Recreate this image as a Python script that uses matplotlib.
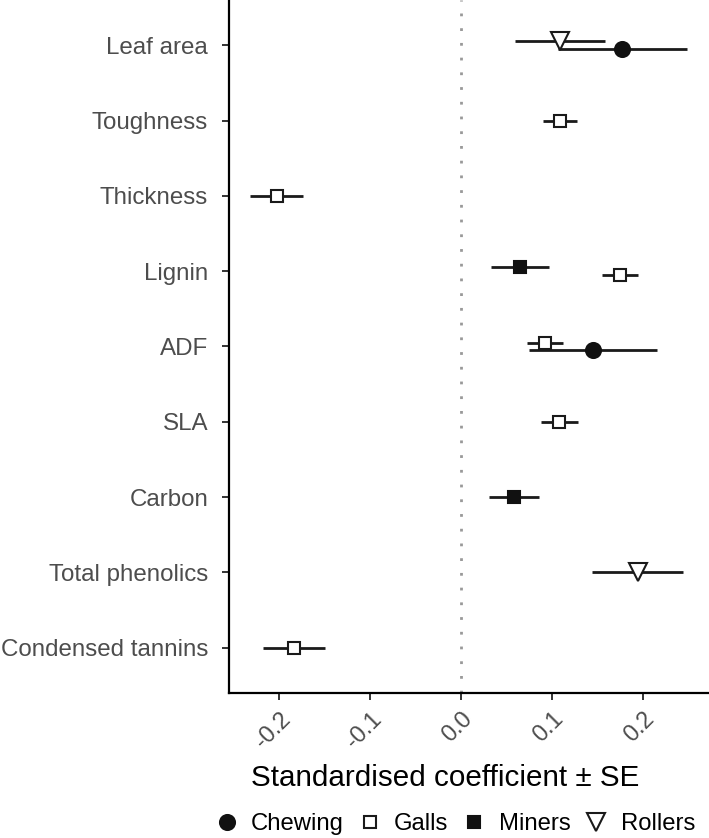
import matplotlib
matplotlib.use("Agg")
import matplotlib.pyplot as plt
import numpy as np

plt.rcParams['font.family'] = ['Liberation Sans', 'DejaVu Sans']

traits = ["Leaf area", "Toughness", "Thickness", "Lignin", "ADF", "SLA",
          "Carbon", "Total phenolics", "Condensed tannins"]
guilds = ["Chewing", "Galls", "Miners", "Rollers"]

chewing_traits = ["Leaf area", "ADF"]
chewing_est = [0.177, 0.145]
chewing_se = [0.071, 0.0705]

galls_traits = ["Toughness", "Thickness", "Lignin", "ADF", "SLA", "Condensed tannins"]
galls_est = [0.1085, -0.203, 0.174, 0.092, 0.1077, -0.1838]
galls_se = [0.0187, 0.0288, 0.0197, 0.0195, 0.0204, 0.034]

miners_traits = ["Lignin", "Carbon"]
miners_est = [0.0645, 0.0579]
miners_se = [0.0317, 0.0277]

rollers_traits = ["Leaf area", "Total phenolics"]
rollers_est = [0.1085, 0.1938]
rollers_se = [0.0498, 0.0498]

xticks = [-0.2, -0.1, 0.0, 0.1, 0.2]

data = {
    "Chewing": (chewing_traits, chewing_est, chewing_se),
    "Galls": (galls_traits, galls_est, galls_se),
    "Miners": (miners_traits, miners_est, miners_se),
    "Rollers": (rollers_traits, rollers_est, rollers_se),
}
styles = {
    "Chewing": dict(marker='o', ms=10.8, mfc='#111111', mec='#111111'),
    "Galls": dict(marker='s', ms=9.0, mfc='white', mec='#1a1a1a'),
    "Miners": dict(marker='s', ms=9.2, mfc='#111111', mec='#111111'),
    "Rollers": dict(marker='v', ms=13.5, mfc='white', mec='#1a1a1a'),
}

# dodge positions
dodge_w = 0.1
present = {t: [g for g in guilds if t in data[g][0]] for t in traits}

def ypos(g, t):
    lst = present[t]
    n = len(lst)
    k = lst.index(g)
    return traits.index(t) - (k - (n - 1) / 2) * dodge_w

fig = plt.figure(figsize=(7.09, 8.38), dpi=100)
ax = fig.add_axes([229 / 709, 1 - 693 / 838, 480 / 709, 693 / 838])

ax.axvline(0, color='#999999', lw=2.0, linestyle=(0, (1, 4.3)), zorder=1)

handles = []
for g in guilds:
    tr, est, se = data[g]
    ys = [ypos(g, t) for t in tr]
    ax.errorbar(est, ys, xerr=se, fmt='none', ecolor='#1a1a1a', elinewidth=2.0,
                capsize=0, zorder=2)
for g in guilds:
    tr, est, se = data[g]
    ys = [ypos(g, t) for t in tr]
    h, = ax.plot(est, ys, linestyle='none', mew=1.5, zorder=3, label=g, **styles[g])
    handles.append(h)

ax.set_ylim(len(traits) - 1 + 0.6, -0.6)
ax.set_xlim(-0.2553, 0.2722)
ax.set_yticks(range(len(traits)))
ax.set_yticklabels(traits)
ax.set_xticks(xticks)
ax.set_xticklabels([f"{v:.1f}" for v in xticks], rotation=45, ha='right', va='top',
                   rotation_mode='anchor')

for s in ['top', 'right']:
    ax.spines[s].set_visible(False)
for s in ['left', 'bottom']:
    ax.spines[s].set_color('black')
    ax.spines[s].set_linewidth(1.6)

ax.tick_params(axis='y', length=5, width=1.4, color='#333333', labelcolor='#4d4d4d',
               labelsize=17.4, pad=10)
ax.tick_params(axis='x', length=5, width=1.4, color='#333333', labelcolor='#4d4d4d',
               labelsize=17, pad=6)

fig.text(445 / 709, 1 - 778 / 838, "Standardised coefficient \u00b1 SE",
         ha='center', va='center', fontsize=21.3, color='black')

fig.legend(handles=handles, labels=guilds, loc='center', ncol=4,
           bbox_to_anchor=(456 / 709, 1 - 824 / 838), frameon=False,
           fontsize=17.2, handlelength=0.8, handletextpad=0.62, columnspacing=0.68,
           borderpad=0, borderaxespad=0)

fig.savefig("out.png", dpi=100)
